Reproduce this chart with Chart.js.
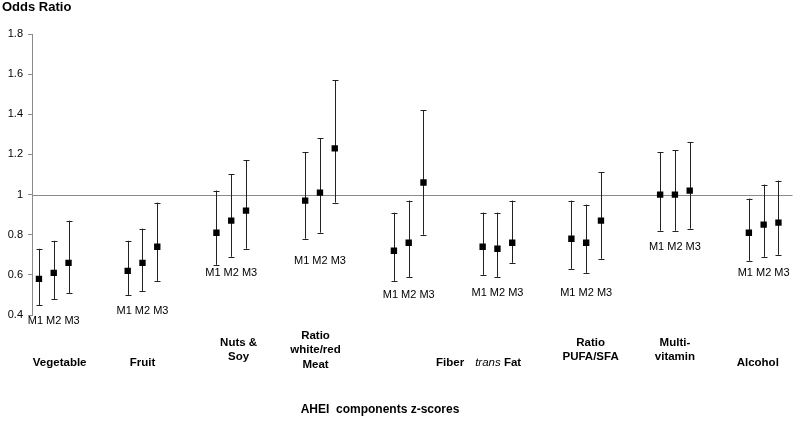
<!DOCTYPE html>
<html>
<head>
<meta charset="utf-8">
<script src="https://cdn.jsdelivr.net/npm/chart.js@4"></script>
<style>
  html, body { margin: 0; padding: 0; background: #fff; }
  #wrap { width: 797px; height: 422px; }
</style>
</head>
<body>
<div id="wrap"><canvas id="or-chart" width="797" height="422"></canvas></div>
<script>
// data
const categories = ['Vegetable', 'Fruit', 'Nuts & Soy', 'Ratio white/red Meat', 'Fiber',
                    'trans Fat', 'Ratio PUFA/SFA', 'Multi-vitamin', 'Alcohol']
const models = ['M1', 'M2', 'M3']
const oddsRatio = [
    [0.58, 0.61, 0.66], [0.62, 0.66, 0.74], [0.81, 0.87, 0.92],
    [0.97, 1.01, 1.23], [0.72, 0.76, 1.06], [0.74, 0.73, 0.76],
    [0.78, 0.76, 0.87], [1.00, 1.00, 1.02], [0.81, 0.85, 0.86]
]
const lowerCI = [
    [0.45, 0.48, 0.51], [0.50, 0.52, 0.57], [0.65, 0.69, 0.73],
    [0.78, 0.81, 0.96], [0.57, 0.59, 0.80], [0.60, 0.59, 0.66],
    [0.63, 0.61, 0.68], [0.82, 0.82, 0.83], [0.67, 0.69, 0.70]
]
const upperCI = [
    [0.73, 0.77, 0.87], [0.77, 0.83, 0.96], [1.02, 1.10, 1.17],
    [1.21, 1.28, 1.57], [0.91, 0.97, 1.42], [0.91, 0.91, 0.97],
    [0.97, 0.95, 1.11], [1.21, 1.22, 1.26], [0.98, 1.05, 1.07]
]
const yTicks = [0.4, 0.6, 0.8, 1, 1.2, 1.4, 1.6, 1.8]

// layout of the free text boxes (value units / slot offsets)
const modelLabelAt = [0.37, 0.42, 0.61, 0.67, 0.50, 0.51, 0.51, 0.74, 0.61]
const catLabelShift = [0.4, 0.0, 0.5, -0.3, 2.8, 0.05, 0.3, 0.0, -0.4]
const catLines = [['Vegetable'], ['Fruit'], ['Nuts &', 'Soy'], ['Ratio', 'white/red', 'Meat'],
                  ['Fiber'], ['trans Fat'], ['Ratio', 'PUFA/SFA'], ['Multi-', 'vitamin'], ['Alcohol']]

const SLOTS = 6
const points = []
categories.forEach((c, i) => {
    models.forEach((m, j) => {
        points.push({ x: i * SLOTS + j, y: oddsRatio[i][j], lo: lowerCI[i][j], hi: upperCI[i][j] })
    })
})

const FONT = '"Liberation Sans", Arial, sans-serif'

const extras = {
    id: 'extras',
    beforeDatasetsDraw(chart) {
        const ctx = chart.ctx
        const xs = chart.scales.x, ys = chart.scales.y
        const area = chart.chartArea
        ctx.save()
        // reference line at OR = 1
        ctx.strokeStyle = '#8a8a8a'
        ctx.lineWidth = 1
        const y1 = Math.round(ys.getPixelForValue(1)) + 0.5
        ctx.beginPath()
        ctx.moveTo(area.left, y1)
        ctx.lineTo(area.right, y1)
        ctx.stroke()
        // error bars
        ctx.strokeStyle = '#222'
        points.forEach(p => {
            const px = Math.round(xs.getPixelForValue(p.x)) + 0.5
            const top = ys.getPixelForValue(p.hi)
            const bot = ys.getPixelForValue(p.lo)
            ctx.beginPath()
            ctx.moveTo(px, top); ctx.lineTo(px, bot)
            ctx.moveTo(px - 3, Math.round(top) + 0.5); ctx.lineTo(px + 3, Math.round(top) + 0.5)
            ctx.moveTo(px - 3, Math.round(bot) + 0.5); ctx.lineTo(px + 3, Math.round(bot) + 0.5)
            ctx.stroke()
        })
        ctx.restore()
    },
    afterDraw(chart) {
        const ctx = chart.ctx
        const xs = chart.scales.x, ys = chart.scales.y
        ctx.save()
        ctx.fillStyle = '#000'
        ctx.textBaseline = 'middle'
        ctx.textAlign = 'center'
        // M1 M2 M3 under each group
        ctx.font = '11px ' + FONT
        categories.forEach((c, i) => {
            ctx.fillText(models.join(' '), xs.getPixelForValue(i * SLOTS + 1), ys.getPixelForValue(modelLabelAt[i]))
        })
        // category names
        ctx.font = 'bold 11.5px ' + FONT
        catLines.forEach((lines, i) => {
            const cx = xs.getPixelForValue(i * SLOTS + 1 + catLabelShift[i])
            const mid = lines.length === 1 ? 363 : 350
            lines.forEach((t, k) => {
                const y = mid + (k - (lines.length - 1) / 2) * 14.5
                if (t === 'trans Fat') {
                    ctx.font = 'italic 11.5px ' + FONT
                    const w1 = ctx.measureText('trans ').width
                    ctx.font = 'bold 11.5px ' + FONT
                    const w2 = ctx.measureText('Fat').width
                    const x0 = cx - (w1 + w2) / 2
                    ctx.textAlign = 'left'
                    ctx.font = 'italic 11.5px ' + FONT
                    ctx.fillText('trans ', x0, y)
                    ctx.font = 'bold 11.5px ' + FONT
                    ctx.fillText('Fat', x0 + w1, y)
                    ctx.textAlign = 'center'
                } else {
                    ctx.fillText(t, cx, y)
                }
            })
        })
        // titles
        ctx.font = 'bold 12px ' + FONT
        ctx.fillText('AHEI  components z-scores', 380, 410)
        ctx.textAlign = 'left'
        ctx.font = 'bold 13px ' + FONT
        ctx.fillText('Odds Ratio', 2, 7)
        ctx.restore()
    }
}

const ctx = document.getElementById('or-chart')
const orChart = new Chart(ctx, {
    type: 'scatter',
    data: {
        datasets: [{
            label: 'Odds ratio',
            data: points,
            pointStyle: 'rect',
            pointRadius: 4.5,
            pointHoverRadius: 4.5,
            backgroundColor: '#000',
            borderColor: '#000',
            borderWidth: 0
        }]
    },
    options: {
        responsive: false,
        animation: false,
        layout: { padding: { top: 34, bottom: 107, left: 0, right: 0 } },
        plugins: { legend: { display: false }, tooltip: { enabled: false } },
        scales: {
            x: {
                type: 'linear',
                display: false,
                min: -0.47,
                max: 50.95
            },
            y: {
                min: 0.4,
                max: 1.8,
                afterBuildTicks: (s) => { s.ticks = yTicks.map(v => ({ value: v })) },
                afterFit: (s) => { s.width = 32 },
                border: { color: '#8a8a8a' },
                grid: { drawOnChartArea: false, tickLength: 4, color: '#8a8a8a' },
                ticks: {
                    padding: 5,
                    color: '#000',
                    font: { family: FONT, size: 11 },
                    callback: (v) => String(+Number(v).toFixed(1))
                }
            }
        }
    },
    plugins: [extras]
})
</script>
</body>
</html>
